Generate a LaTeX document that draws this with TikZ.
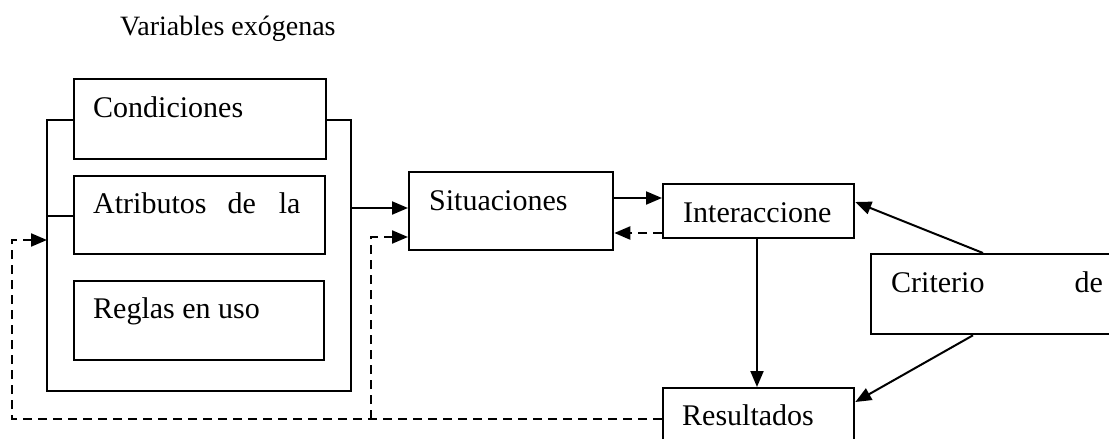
\documentclass[tikz,border=0pt]{standalone}
\usepackage{fontspec}
\setmainfont{Liberation Serif}
\usetikzlibrary{arrows.meta}
\begin{document}
\begin{tikzpicture}[x=1pt,y=-1pt,
  box/.style={draw, line width=2.3pt, rectangle, inner sep=0pt, anchor=north west},
  lbl/.style={anchor=base west, inner sep=0pt, font=\fontsize{30}{36}\selectfont},
  frame/.style={line width=1.3pt},
  link/.style={line width=2pt, -{Triangle[length=16pt,width=13pt]}},
  back/.style={line width=2.2pt, dash pattern=on 9pt off 6pt},
  backarrow/.style={back, -{Triangle[length=16pt,width=13pt]}}]
\useasboundingbox[fill=white] (0,0) rectangle (1109,439);

% title
\node[lbl, font=\fontsize{28}{34}\selectfont] (title) at (120,35) {Variables exógenas};

% exogenous variable boxes
\node[box, minimum width=252, minimum height=80] (cond) at (73,78) {};
\node[box, minimum width=251, minimum height=78] (atrib) at (73,175) {};
\node[box, minimum width=250, minimum height=79] (reglas) at (73,280) {};
\node[lbl] (condt) at (93,117) {Condiciones};
\node[lbl] (atribt) at (93,213) {Atributos\hspace{21pt}de\hspace{23pt}la};
\node[lbl] (reglast) at (93,318) {Reglas en uso};

% action arena and outcomes
\node[box, minimum width=204, minimum height=78] (sit) at (408,171) {};
\node[lbl] (sitt) at (429,210) {Situaciones};
\node[box, minimum width=191, minimum height=54] (inter) at (662,183) {};
\node[lbl] (intert) at (683,222) {Interaccione};
\node[box, minimum width=191, minimum height=60] (res) at (662,387) {};
\node[lbl] (rest) at (682,425) {Resultados};
\node[box, minimum width=250, minimum height=80] (crit) at (870,253) {};
\node[lbl] (critt) at (891,292) {Criterio\hspace{90pt}de};

% bracket grouping the three exogenous boxes
\coordinate (bl) at (47,391);
\coordinate (br) at (351,391);
\draw[frame] (cond.west |- 0,120) -- (bl |- 0,120) -- (bl) -- (br) -- (br |- 0,120) -- (cond.east |- 0,120);
\draw[frame] (bl |- 0,216) -- (atrib.west |- 0,216);

% forward links
\coordinate (out) at (351,208);
\draw[link] (out) -- (sit.west |- out);
\draw[link] (sit.east |- 0,198) -- (inter.west |- 0,198);
\draw[backarrow] (inter.west |- 0,233) -- (sit.east |- 0,233);
\draw[link] (inter.south -| 757,0) -- (res.north -| 757,0);
\draw[link] (crit.north -| 983,0) -- (inter.east |- 0,202);
\draw[link] (crit.south -| 973,0) -- (res.east |- 0,402);

% feedback loops
\coordinate (fb) at (12,419);
\coordinate (j) at (371,419);
\draw[backarrow] (res.west |- fb) -- (fb) -- (fb |- 0,240) -- (bl |- 0,240);
\draw[backarrow] (j) -- (j |- 0,237) -- (sit.west |- 0,237);
\end{tikzpicture}
\end{document}
